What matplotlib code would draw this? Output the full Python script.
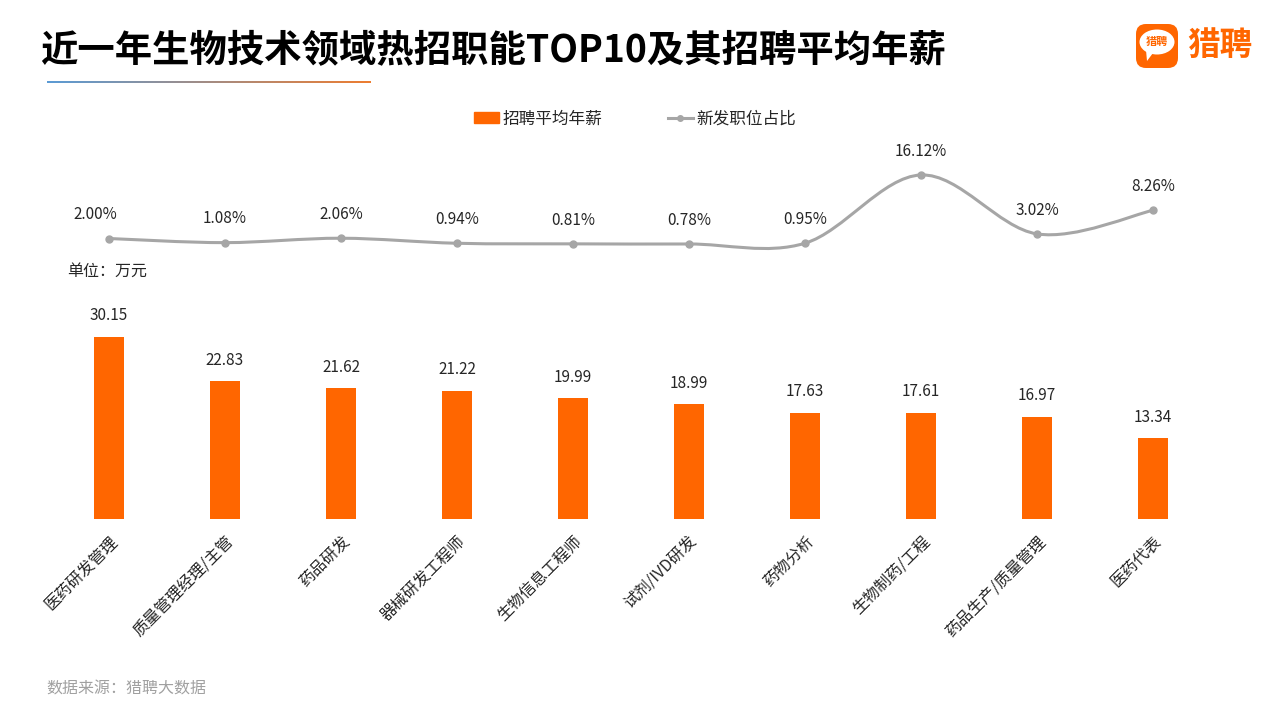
import matplotlib
matplotlib.use("Agg")
from matplotlib import pyplot as plt
from matplotlib.path import Path
from matplotlib.patches import PathPatch, FancyBboxPatch, Rectangle, Ellipse, Polygon
from matplotlib.lines import Line2D
import numpy as np

plt.rcParams['font.family'] = ['Noto Sans CJK SC', 'DejaVu Sans']

# 数据
jobs = ['医药研发管理', '质量管理经理/主管', '药品研发', '器械研发工程师', '生物信息工程师',
        '试剂/IVD研发', '药物分析', '生物制药/工程', '药品生产/质量管理', '医药代表']
salary = [30.15, 22.83, 21.62, 21.22, 19.99, 18.99, 17.63, 17.61, 16.97, 13.34]
share = [2.00, 1.08, 2.06, 0.94, 0.81, 0.78, 0.95, 16.12, 3.02, 8.26]

ORANGE = '#ff6600'
GRAY = '#a6a6a6'
TXT = '#262626'
W, H = 1280, 720

fig = plt.figure(figsize=(12.8, 7.2), dpi=100)


def fx(px):
    return px / W


def fy(py):
    return 1 - py / H


x = np.arange(len(jobs))

# bar axes: baseline at y=519px, 6.04 px per unit
bar_top = 519 - 35 * 6.04
axb = fig.add_axes([fx(51), fy(519), fx(1160), (519 - bar_top) / H])
axb.bar(x, salary, width=0.26, color=ORANGE)
axb.set_xlim(-0.5, 9.5)
axb.set_ylim(0, 35)
for xi, v in zip(x, salary):
    axb.annotate(f'{v:.2f}', (xi, v), xytext=(0, 9), textcoords='offset points',
                 ha='center', va='bottom', fontsize=11, color=TXT)
axb.set_xticks(x)
axb.set_xticklabels(jobs, rotation=45, ha='right', va='top', rotation_mode='anchor',
                    fontsize=11.5, color=TXT)
axb.tick_params(axis='x', length=0, pad=10)
axb.set_yticks([])
for s in axb.spines.values():
    s.set_visible(False)

# line axes: 0% at y=247.5px, 4.5 px per %
axl = fig.add_axes([fx(51), fy(247.5), fx(1160), 20 * 4.5 / H])
axl.set_xlim(-0.5, 9.5)
axl.set_ylim(0, 20)
axl.axis('off')

# smooth curve (Catmull-Rom as cubic Bezier)
pts = np.column_stack([x, share]).astype(float)
ext = np.vstack([pts[0], pts, pts[-1]])
verts = [tuple(pts[0])]
codes = [Path.MOVETO]
for i in range(len(pts) - 1):
    p0, p1, p2, p3 = ext[i], ext[i + 1], ext[i + 2], ext[i + 3]
    c1 = p1 + (p2 - p0) / 6
    c2 = p2 - (p3 - p1) / 6
    verts += [tuple(c1), tuple(c2), tuple(p2)]
    codes += [Path.CURVE4] * 3
axl.add_patch(PathPatch(Path(verts, codes), fill=False, edgecolor=GRAY, lw=2.2, clip_on=False))
axl.plot(x, share, 'o', color=GRAY, ms=5, clip_on=False)
for i, (xi, v) in enumerate(zip(x, share)):
    dx = -10 if i == 0 else 0
    axl.annotate(f'{v:.2f}%', (xi, v), xytext=(dx, 11), textcoords='offset points',
                 ha='center', va='bottom', fontsize=11, color=TXT)

# legend
handles = [Rectangle((0, 0), 1, 1, color=ORANGE),
           Line2D([0], [0], color=GRAY, lw=2.2, marker='o', ms=4)]
fig.legend(handles, ['招聘平均年薪', '新发职位占比'], loc='center',
           bbox_to_anchor=(fx(635), fy(119)), ncol=2, frameon=False,
           fontsize=12, handlelength=1.5, handleheight=0.6, columnspacing=3.9,
           handletextpad=0.2, labelcolor=TXT)

# texts
fig.text(fx(40), fy(50), '近一年生物技术领域热招职能TOP10及其招聘平均年薪', fontsize=26.9,
         fontweight='black', color='black', va='center', ha='left')
fig.text(fx(67), fy(271), '单位：万元', fontsize=11.5, color=TXT, va='center')
fig.text(fx(46), fy(689), '数据来源：猎聘大数据', fontsize=11.5, color='#a0a0a0', va='center')

# gradient underline
axg = fig.add_axes([fx(47), fy(83.5), fx(324), 3 / H])
grad = np.linspace(0, 1, 256)
c0 = np.array([0x5b, 0x9b, 0xd5]) / 255
c1 = np.array([0xed, 0x7d, 0x31]) / 255
img = c0[None, :] * (1 - grad[:, None]) + c1[None, :] * grad[:, None]
axg.imshow(img[None, :, :], aspect='auto', extent=(0, 1, 0, 1))
axg.axis('off')

# logo
axo = fig.add_axes([0, 0, 1, 1], zorder=-1)
axo.set_xlim(0, W)
axo.set_ylim(H, 0)
axo.axis('off')
axo.add_patch(FancyBboxPatch((1136, 24), 42, 44, boxstyle='round,pad=0,rounding_size=10',
                             color=ORANGE, lw=0))
axo.add_patch(Ellipse((1157, 42), 35, 25, color='white', lw=0))
axo.add_patch(Polygon([[1146, 50], [1153, 53], [1147, 61]], color='white', lw=0))
axo.text(1157, 42, '猎聘', fontsize=8, color=ORANGE, ha='center', va='center', fontweight='bold')
axo.text(1187, 45, '猎聘', fontsize=23.5, color=ORANGE, ha='left', va='center', fontweight='bold')

fig.savefig('out.png', dpi=100)
